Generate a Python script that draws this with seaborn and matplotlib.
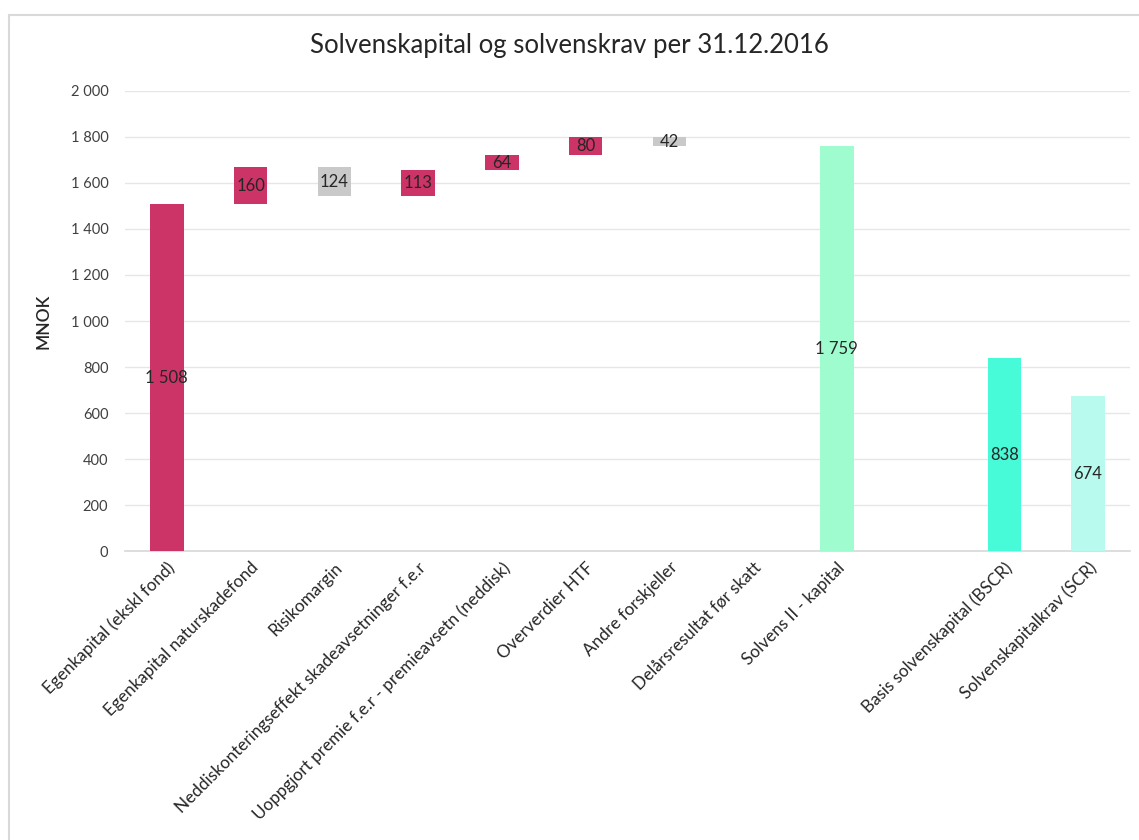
import matplotlib
matplotlib.use("Agg")
import matplotlib.pyplot as plt
import seaborn as sns
import numpy as np
import pandas as pd
from matplotlib.lines import Line2D

kategorier = [
    "Egenkapital (ekskl fond)",
    "Egenkapital naturskadefond",
    "Risikomargin",
    "Neddiskonteringseffekt skadeavsetninger f.e.r",
    "Uoppgjort premie f.e.r - premieavsetn (neddisk)",
    "Oververdier HTF",
    "Andre forskjeller",
    "Delårsresultat før skatt",
    "Solvens II - kapital",
    " ",
    "Basis solvenskapital (BSCR)",
    "Solvenskapitalkrav (SCR)",
]
verdier = [1508, 160, -124, 113, 64, 80, -42, 0, 1759, 0, 838, 674]
typer = ["total", "pos", "neg", "pos", "pos", "pos", "neg", "pos", "total", "tom", "bscr", "scr"]

farger = {
    "total": "#CC3366",
    "pos": "#CC3366",
    "neg": "#C9C9C9",
    "tom": "#FFFFFF",
    "bscr": "#47FAD8",
    "scr": "#B8FAEE",
}
solvens_farge = "#9FFCCF"

# waterfall: bunn og hoyde for hver stolpe
bunner, hoyder, fargeliste = [], [], []
lopende = 0
for kat, v, t in zip(kategorier, verdier, typer):
    if t == "total":
        bunner.append(0)
        hoyder.append(v)
        lopende = v
        fargeliste.append(farger["total"] if kat.startswith("Egenkapital") else solvens_farge)
    elif t == "pos":
        bunner.append(lopende)
        hoyder.append(v)
        lopende += v
        fargeliste.append(farger["pos"])
    elif t == "neg":
        lopende += v
        bunner.append(lopende)
        hoyder.append(-v)
        fargeliste.append(farger["neg"])
    else:
        bunner.append(0)
        hoyder.append(v)
        fargeliste.append(farger[t])

df = pd.DataFrame({"kategori": kategorier, "hoyde": hoyder, "bunn": bunner})

sns.set_theme(style="white")
plt.rcParams["font.family"] = ["Lato", "DejaVu Sans"]

fig = plt.figure(figsize=(11.39, 8.4), dpi=100)
ax = fig.add_axes([0.1097, 0.344, 0.8823, 0.5477])

sns.barplot(data=df, x="kategori", y="hoyde", color="#CC3366", width=0.4,
            saturation=1, ax=ax, zorder=3)

for patch, b, c in zip(ax.patches, df["bunn"], fargeliste):
    patch.set_y(b)
    patch.set_facecolor(c)
    patch.set_edgecolor("none")

def fmt(v):
    return f"{int(round(v)):,}".replace(",", " ")

for i, (b, h) in enumerate(zip(df["bunn"], df["hoyde"])):
    if h > 0:
        ax.text(i, b + h / 2, fmt(h), ha="center", va="center", fontsize=12,
                color="#262626", zorder=4)

ax.set_ylim(0, 2000)
ax.set_yticks(np.arange(0, 2001, 200))
ax.set_yticklabels([fmt(t) for t in np.arange(0, 2001, 200)], fontsize=10.5, color="#404040")
ax.yaxis.grid(True, color="#E6E6E6", linewidth=1)
ax.set_axisbelow(True)
ax.tick_params(axis="both", length=0, pad=12)
ax.set_xlim(-0.5, len(kategorier) - 0.5)
ax.set_xticks(range(len(kategorier)))
ax.set_xticklabels(kategorier, rotation=45, ha="right", rotation_mode="anchor",
                   fontsize=12.3, color="#262626")
ax.tick_params(axis="x", pad=6)
for s in ["left", "right", "top"]:
    ax.spines[s].set_visible(False)
ax.spines["bottom"].set_color("#D9D9D9")
ax.set_xlabel("")
ax.set_ylabel("MNOK", fontsize=12.5, color="#262626", labelpad=14, fontweight="semibold")

fig.text(0.5, 1 - 46 / 840, "Solvenskapital og solvenskrav per 31.12.2016",
         ha="center", va="center", fontsize=18.5, color="#262626")

# ramme (topp og venstre)
fig.add_artist(Line2D([9 / 1139, 1.0], [1 - 15 / 840, 1 - 15 / 840],
                      transform=fig.transFigure, color="#D9D9D9", linewidth=1.5))
fig.add_artist(Line2D([9 / 1139, 9 / 1139], [0, 1 - 15 / 840],
                      transform=fig.transFigure, color="#D9D9D9", linewidth=1.5))

fig.savefig("out.png", dpi=100, facecolor="white")
